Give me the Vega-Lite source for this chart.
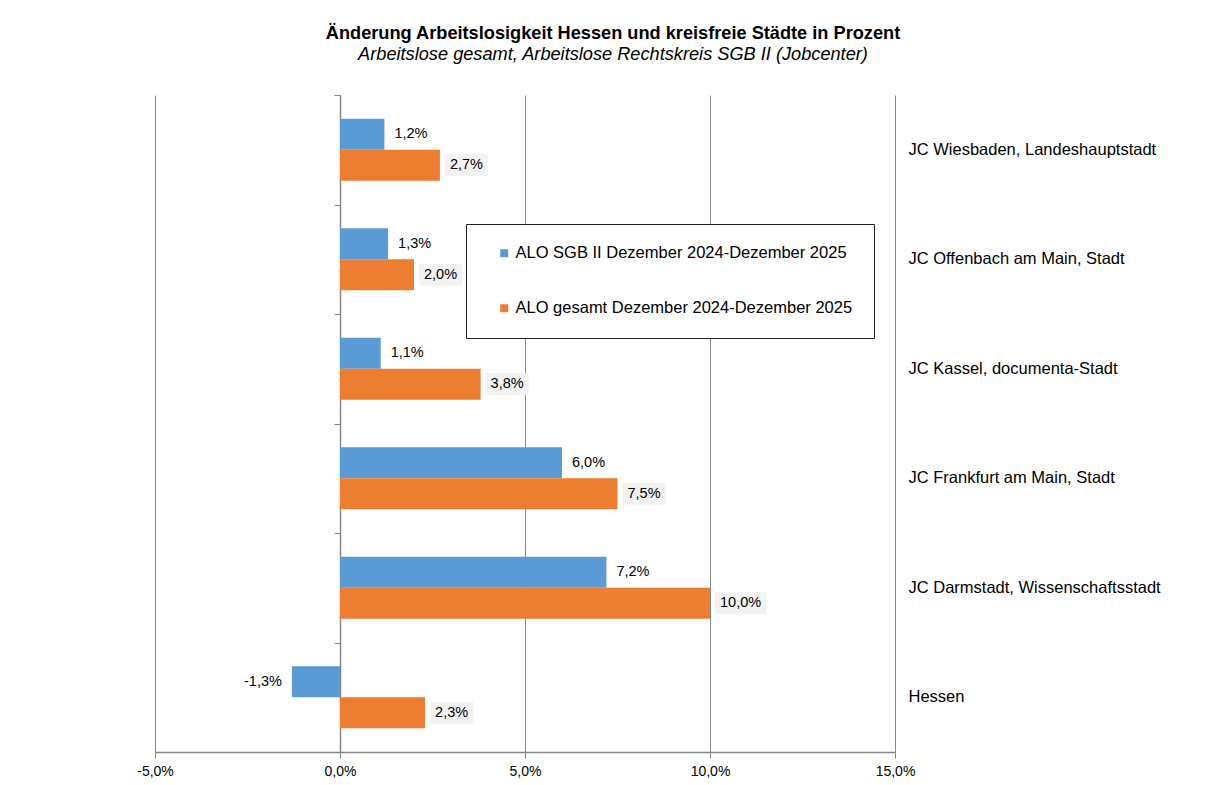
{
  "$schema": "https://vega.github.io/schema/vega-lite/v6.json",
  "autosize": "none",
  "width": 740,
  "height": 657,
  "padding": {"left": 155, "top": 95, "right": 319, "bottom": 33},
  "background": "white",
  "title": {
    "text": "Änderung Arbeitslosigkeit Hessen und kreisfreie Städte in Prozent",
    "subtitle": "Arbeitslose gesamt, Arbeitslose Rechtskreis SGB II (Jobcenter)",
    "anchor": "middle",
    "frame": "group",
    "dx": 88,
    "offset": 30,
    "fontSize": 18.2,
    "fontWeight": "bold",
    "color": "#000000",
    "subtitleFontSize": 18.2,
    "subtitleFontStyle": "italic",
    "subtitleColor": "#000000",
    "subtitlePadding": 3,
    "font": "Liberation Sans",
    "subtitleFont": "Liberation Sans"
  },
  "config": {
    "font": "Liberation Sans",
    "view": {"stroke": null},
    "locale": {
      "number": {"decimal": ",", "thousands": ".", "grouping": [3], "currency": ["", " €"], "minus": "-", "percent": "%"}
    }
  },
  "data": {
    "values": [
      {"region": "JC Wiesbaden, Landeshauptstadt", "serie": "ALO SGB II Dezember 2024-Dezember 2025", "wert": 0.012},
      {"region": "JC Wiesbaden, Landeshauptstadt", "serie": "ALO gesamt Dezember 2024-Dezember 2025", "wert": 0.027},
      {"region": "JC Offenbach am Main, Stadt", "serie": "ALO SGB II Dezember 2024-Dezember 2025", "wert": 0.013},
      {"region": "JC Offenbach am Main, Stadt", "serie": "ALO gesamt Dezember 2024-Dezember 2025", "wert": 0.020},
      {"region": "JC Kassel, documenta-Stadt", "serie": "ALO SGB II Dezember 2024-Dezember 2025", "wert": 0.011},
      {"region": "JC Kassel, documenta-Stadt", "serie": "ALO gesamt Dezember 2024-Dezember 2025", "wert": 0.038},
      {"region": "JC Frankfurt am Main, Stadt", "serie": "ALO SGB II Dezember 2024-Dezember 2025", "wert": 0.060},
      {"region": "JC Frankfurt am Main, Stadt", "serie": "ALO gesamt Dezember 2024-Dezember 2025", "wert": 0.075},
      {"region": "JC Darmstadt, Wissenschaftsstadt", "serie": "ALO SGB II Dezember 2024-Dezember 2025", "wert": 0.072},
      {"region": "JC Darmstadt, Wissenschaftsstadt", "serie": "ALO gesamt Dezember 2024-Dezember 2025", "wert": 0.100},
      {"region": "Hessen", "serie": "ALO SGB II Dezember 2024-Dezember 2025", "wert": -0.013},
      {"region": "Hessen", "serie": "ALO gesamt Dezember 2024-Dezember 2025", "wert": 0.023}
    ]
  },
  "resolve": {"axis": {"y": "independent"}},
  "layer": [
    {
      "mark": {"type": "bar"},
      "encoding": {
        "y": {
          "field": "region", "type": "nominal",
          "sort": ["JC Wiesbaden, Landeshauptstadt", "JC Offenbach am Main, Stadt", "JC Kassel, documenta-Stadt", "JC Frankfurt am Main, Stadt", "JC Darmstadt, Wissenschaftsstadt", "Hessen"],
          "scale": {"paddingInner": 0, "paddingOuter": 0},
          "axis": {"orient": "left", "offset": -185, "labels": false, "title": null, "domain": true, "domainColor": "#868686", "domainWidth": 1.5, "ticks": true, "tickColor": "#868686", "tickSize": 6, "tickBand": "extent", "grid": false}
        },
        "yOffset": {
          "field": "serie", "type": "nominal",
          "sort": ["ALO SGB II Dezember 2024-Dezember 2025", "ALO gesamt Dezember 2024-Dezember 2025"],
          "scale": {"paddingInner": 0, "paddingOuter": 0.766}
        },
        "x": {
          "field": "wert", "type": "quantitative",
          "scale": {"domain": [-0.05, 0.15], "nice": false, "zero": false},
          "axis": {"values": [-0.05, 0, 0.05, 0.1, 0.15], "format": ".1%", "title": null, "grid": true, "gridColor": "#868686", "gridWidth": 1, "domainColor": "#868686", "domainWidth": 1.5, "tickColor": "#868686", "tickSize": 6, "labelFontSize": 14, "labelColor": "#000000", "labelPadding": 6, "labelFlush": false}
        },
        "color": {
          "field": "serie", "type": "nominal",
          "sort": ["ALO SGB II Dezember 2024-Dezember 2025", "ALO gesamt Dezember 2024-Dezember 2025"],
          "scale": {"domain": ["ALO SGB II Dezember 2024-Dezember 2025", "ALO gesamt Dezember 2024-Dezember 2025"], "range": ["#5B9BD5", "#ED7D31"]},
          "legend": {"orient": "none", "legendX": 311, "legendY": 129, "title": null, "strokeColor": "#222222", "fillColor": "#ffffff", "padding": 21, "symbolType": "square", "symbolSize": 64, "symbolStrokeWidth": 0, "symbolOffset": 9, "labelFontSize": 16.5, "labelColor": "#000000", "labelOffset": 3, "rowPadding": 38, "labelLimit": 500}
        }
      }
    },
    {
      "transform": [{"filter": "datum.serie == 'ALO gesamt Dezember 2024-Dezember 2025' && datum.wert < 0.1"}],
      "mark": {"type": "bar", "height": 22, "xOffset": 5, "x2Offset": 48, "color": "#F2F2F2"},
      "encoding": {
        "y": {"field": "region", "type": "nominal", "sort": ["JC Wiesbaden, Landeshauptstadt", "JC Offenbach am Main, Stadt", "JC Kassel, documenta-Stadt", "JC Frankfurt am Main, Stadt", "JC Darmstadt, Wissenschaftsstadt", "Hessen"], "axis": null},
        "yOffset": {"field": "serie", "type": "nominal", "sort": ["ALO SGB II Dezember 2024-Dezember 2025", "ALO gesamt Dezember 2024-Dezember 2025"]},
        "x": {"field": "wert", "type": "quantitative"},
        "x2": {"field": "wert"}
      }
    },
    {
      "transform": [{"filter": "datum.serie == 'ALO gesamt Dezember 2024-Dezember 2025' && datum.wert >= 0.1"}],
      "mark": {"type": "bar", "height": 22, "xOffset": 5, "x2Offset": 56, "color": "#F2F2F2"},
      "encoding": {
        "y": {"field": "region", "type": "nominal", "sort": ["JC Wiesbaden, Landeshauptstadt", "JC Offenbach am Main, Stadt", "JC Kassel, documenta-Stadt", "JC Frankfurt am Main, Stadt", "JC Darmstadt, Wissenschaftsstadt", "Hessen"], "axis": null},
        "yOffset": {"field": "serie", "type": "nominal", "sort": ["ALO SGB II Dezember 2024-Dezember 2025", "ALO gesamt Dezember 2024-Dezember 2025"]},
        "x": {"field": "wert", "type": "quantitative"},
        "x2": {"field": "wert"}
      }
    },
    {
      "transform": [{"filter": "datum.wert >= 0"}],
      "mark": {"type": "text", "align": "left", "baseline": "middle", "dx": 10, "fontSize": 14.5, "color": "#000000"},
      "encoding": {
        "y": {"field": "region", "type": "nominal", "sort": ["JC Wiesbaden, Landeshauptstadt", "JC Offenbach am Main, Stadt", "JC Kassel, documenta-Stadt", "JC Frankfurt am Main, Stadt", "JC Darmstadt, Wissenschaftsstadt", "Hessen"], "axis": null},
        "yOffset": {"field": "serie", "type": "nominal", "sort": ["ALO SGB II Dezember 2024-Dezember 2025", "ALO gesamt Dezember 2024-Dezember 2025"]},
        "x": {"field": "wert", "type": "quantitative"},
        "text": {"field": "wert", "type": "quantitative", "format": ".1%"}
      }
    },
    {
      "transform": [{"filter": "datum.wert < 0"}],
      "mark": {"type": "text", "align": "right", "baseline": "middle", "dx": -10, "fontSize": 14.5, "color": "#000000"},
      "encoding": {
        "y": {"field": "region", "type": "nominal", "sort": ["JC Wiesbaden, Landeshauptstadt", "JC Offenbach am Main, Stadt", "JC Kassel, documenta-Stadt", "JC Frankfurt am Main, Stadt", "JC Darmstadt, Wissenschaftsstadt", "Hessen"], "axis": null},
        "yOffset": {"field": "serie", "type": "nominal", "sort": ["ALO SGB II Dezember 2024-Dezember 2025", "ALO gesamt Dezember 2024-Dezember 2025"]},
        "x": {"field": "wert", "type": "quantitative"},
        "text": {"field": "wert", "type": "quantitative", "format": ".1%"}
      }
    },
    {
      "mark": {"type": "text", "opacity": 0},
      "encoding": {
        "y": {
          "field": "region", "type": "nominal",
          "sort": ["JC Wiesbaden, Landeshauptstadt", "JC Offenbach am Main, Stadt", "JC Kassel, documenta-Stadt", "JC Frankfurt am Main, Stadt", "JC Darmstadt, Wissenschaftsstadt", "Hessen"],
          "axis": {"orient": "right", "title": null, "domain": false, "ticks": false, "grid": false, "labelFontSize": 16.5, "labelColor": "#000000", "labelAlign": "left", "labelPadding": 13, "labelLimit": 400}
        }
      }
    }
  ]
}
